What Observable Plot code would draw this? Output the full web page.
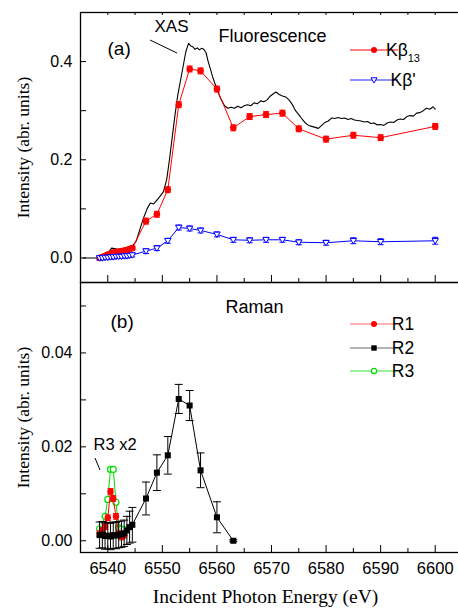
<!DOCTYPE html>
<html><head><meta charset="utf-8">
<script src="https://cdn.jsdelivr.net/npm/d3@7"></script>
<script src="https://cdn.jsdelivr.net/npm/@observablehq/plot@0.6"></script>
<style>
html,body{margin:0;padding:0;background:#fff;overflow:hidden;}
#wrap{position:relative;width:458px;height:609px;overflow:hidden;}
#top{position:absolute;left:0;top:0;}
#bot{position:absolute;left:0;top:274px;}
</style></head>
<body><div id="wrap"><div id="top"></div><div id="bot"></div></div>
<script>
// ---------- data ----------
const scanEnergy = [6538.5, 6539, 6539.5, 6540, 6540.5, 6541, 6541.5, 6542, 6542.5, 6543, 6543.5, 6544, 6544.5,
  6547, 6549, 6551, 6553, 6555, 6557, 6560, 6563, 6566, 6569, 6572, 6575, 6580, 6585, 6590, 6600];
const kb13Values = [0.000, 0.002, 0.004, 0.007, 0.009, 0.011, 0.012, 0.013, 0.014, 0.015, 0.016, 0.018, 0.020,
  0.075, 0.089, 0.139, 0.312, 0.385, 0.381, 0.344, 0.265, 0.288, 0.292, 0.295, 0.263, 0.242, 0.250, 0.245, 0.268];
const kb13Errors = [0.004, 0.004, 0.004, 0.004, 0.004, 0.004, 0.004, 0.004, 0.004, 0.004, 0.004, 0.004, 0.004,
  0.006, 0.006, 0.006, 0.006, 0.006, 0.006, 0.006, 0.006, 0.006, 0.006, 0.006, 0.006, 0.006, 0.006, 0.006, 0.006];
const kbPrimeValues = [0.000, 0.000, 0.001, 0.001, 0.002, 0.002, 0.003, 0.003, 0.003, 0.004, 0.004, 0.005, 0.006,
  0.014, 0.020, 0.035, 0.062, 0.060, 0.056, 0.048, 0.037, 0.036, 0.037, 0.037, 0.032, 0.031, 0.035, 0.033, 0.035];
const kbPrimeErrors = [0.004, 0.004, 0.004, 0.004, 0.004, 0.004, 0.004, 0.004, 0.004, 0.004, 0.004, 0.004, 0.004,
  0.005, 0.005, 0.005, 0.005, 0.005, 0.005, 0.005, 0.005, 0.005, 0.005, 0.005, 0.005, 0.005, 0.006, 0.006, 0.007];

const xasEnergy = [6535.5, 6538, 6539.5, 6540.2, 6540.7, 6541.2, 6542, 6543, 6543.8, 6544.5, 6545.2, 6545.8, 6546.5,
  6547.2, 6547.8, 6548.4, 6549, 6549.6, 6550.2, 6550.8, 6551.3, 6551.8, 6552.3, 6552.8, 6553.3, 6553.8, 6554.3,
  6554.8, 6555.2, 6555.6, 6556, 6556.4, 6556.8, 6557.2, 6557.6, 6558, 6558.4, 6558.8, 6559.3, 6559.8, 6560.3,
  6560.8, 6561.4, 6562, 6562.6, 6563.2, 6563.8, 6564.4, 6565, 6565.6, 6566.2, 6566.8, 6567.4, 6568, 6568.6,
  6569.2, 6569.8, 6570.4, 6570.8, 6571.4, 6572, 6572.6, 6573.2, 6573.8, 6574.4, 6575, 6575.6, 6576.2, 6576.8,
  6577.4, 6578, 6578.6, 6579.2, 6579.8, 6580.4, 6581, 6581.6, 6582.2, 6582.8, 6583.4, 6584, 6584.6, 6585.2,
  6585.8, 6586.4, 6587, 6587.6, 6588.2, 6588.8, 6589.4, 6590, 6590.6, 6591.2, 6591.8, 6592.4, 6593, 6593.6,
  6594.2, 6594.8, 6595.4, 6596, 6596.6, 6597.2, 6597.8, 6598.4, 6599, 6599.6, 6600];
const xasValues = [0.000, 0.000, 0.001, 0.012, 0.020, 0.019, 0.017, 0.018, 0.020, 0.024, 0.034, 0.055, 0.080,
  0.100, 0.112, 0.110, 0.118, 0.126, 0.135, 0.160, 0.200, 0.245, 0.290, 0.330, 0.360, 0.390, 0.420,
  0.437, 0.432, 0.430, 0.425, 0.428, 0.424, 0.427, 0.425, 0.418, 0.400, 0.385, 0.366, 0.350, 0.335,
  0.322, 0.310, 0.305, 0.307, 0.305, 0.309, 0.306, 0.310, 0.312, 0.310, 0.316, 0.314, 0.320, 0.318,
  0.322, 0.330, 0.335, 0.338, 0.333, 0.330, 0.328, 0.322, 0.313, 0.300, 0.292, 0.283, 0.275, 0.270,
  0.268, 0.266, 0.264, 0.270, 0.276, 0.279, 0.285, 0.284, 0.286, 0.284, 0.285, 0.282, 0.284, 0.281,
  0.280, 0.279, 0.277, 0.278, 0.274, 0.275, 0.271, 0.272, 0.270, 0.275, 0.277, 0.276, 0.281, 0.283,
  0.282, 0.288, 0.290, 0.289, 0.295, 0.296, 0.300, 0.305, 0.303, 0.308, 0.303];

const r2Energy = [6538.5, 6539, 6539.5, 6540, 6540.5, 6541, 6541.5, 6542, 6542.5, 6543, 6543.5, 6544, 6544.5,
  6547, 6549, 6551, 6553, 6555, 6557, 6560, 6563];
const r2Values = [0.0012, 0.0013, 0.0010, 0.0011, 0.0009, 0.0012, 0.0011, 0.0013, 0.0014, 0.0016, 0.0022, 0.0029, 0.0034,
  0.0090, 0.0145, 0.0182, 0.0302, 0.0288, 0.0150, 0.0050, 0.0000];
const r2Errors = [0.0028, 0.0028, 0.0028, 0.0028, 0.0028, 0.0028, 0.0028, 0.0028, 0.0028, 0.0028, 0.0030, 0.0034, 0.0037,
  0.0035, 0.0038, 0.0040, 0.0031, 0.0032, 0.0037, 0.0033, 0.0002];
const r1Energy = [6538.5, 6539, 6539.5, 6540, 6540.5, 6541, 6541.5, 6542, 6542.5, 6543];
const r1Values = [0.0015, 0.0022, 0.0030, 0.0049, 0.0105, 0.0090, 0.0052, 0.0015, 0.0008, 0.0012];
const r1Errors = [0.0006, 0.0006, 0.0006, 0.0006, 0.0006, 0.0006, 0.0006, 0.0006, 0.0006, 0.0006];
const r3Energy = [6538.5, 6539, 6539.5, 6540, 6540.5, 6541, 6541.5, 6542, 6542.5, 6543];
const r3Values = [0.0025, 0.0035, 0.0052, 0.0088, 0.0152, 0.0152, 0.0082, 0.0028, 0.0025, 0.0024];
const r3Errors = [0.0004, 0.0004, 0.0004, 0.0004, 0.0004, 0.0004, 0.0004, 0.0004, 0.0004, 0.0004];

const xMajorTicks = [6540, 6550, 6560, 6570, 6580, 6590, 6600];
const xMinorTicks = [6535, 6545, 6555, 6565, 6575, 6585, 6595, 6605];
const yTopTicks = [0, 0.2, 0.4];
const yTopMinor = [0.1, 0.3];
const yBotTicks = [0, 0.02, 0.04];
const yBotMinor = [0.01, 0.03, 0.05];

// ---------- helpers ----------
const zip = (E, V, Er) => E.map((e, i) => ({E: e, v: V[i], err: Er ? Er[i] : 0}));
const kb13 = zip(scanEnergy, kb13Values, kb13Errors);
const kbp = zip(scanEnergy, kbPrimeValues, kbPrimeErrors);
const xas = zip(xasEnergy, xasValues);
const r1 = zip(r1Energy, r1Values, r1Errors);
const r2 = zip(r2Energy, r2Values, r2Errors);
const r3 = zip(r3Energy, r3Values, r3Errors);

const capSym = {draw(ctx, size) { const r = Math.sqrt(size / Math.PI); ctx.moveTo(-r, 0); ctx.lineTo(r, 0); }};
const triDown = {draw(ctx, size) { const r = Math.sqrt(size / Math.PI); ctx.moveTo(-r, -r * 0.7); ctx.lineTo(r, -r * 0.7); ctx.lineTo(0, r); ctx.closePath(); }};

function errorMarks(data, color, capR) {
  return [
    Plot.ruleX(data, {x: "E", y1: d => d.v - d.err, y2: d => d.v + d.err, stroke: color, strokeWidth: 1}),
    Plot.dot(data, {x: "E", y: d => d.v + d.err, symbol: capSym, r: capR, stroke: color, fill: "none", strokeWidth: 1}),
    Plot.dot(data, {x: "E", y: d => d.v - d.err, symbol: capSym, r: capR, stroke: color, fill: "none", strokeWidth: 1})
  ];
}

const SANS = "Liberation Sans, Arial, sans-serif";
const SERIF = "Liberation Serif, Times New Roman, serif";
const W = 462, ML = 80, PH = 270;
const PW = W - ML;
const commonStyle = {fontFamily: SANS, fontSize: "16px", background: "transparent", overflow: "visible", maxWidth: "none"};

// ---------- top panel ----------
const topPlot = Plot.plot({
  width: W, height: 290, marginLeft: ML, marginRight: 0, marginTop: 12, marginBottom: 8,
  x: {domain: [6535, 6605], axis: null},
  y: {domain: [-0.05, 0.5], axis: null},
  style: commonStyle,
  marks: [
    Plot.line(xas, {x: "E", y: "v", stroke: "black", strokeWidth: 1.1}),
    ...errorMarks(kb13, "#ff0000", 3),
    Plot.line(kb13, {x: "E", y: "v", stroke: "#ff0000", strokeWidth: 1}),
    Plot.dot(kb13, {x: "E", y: "v", r: 3.3, fill: "#ff0000", stroke: "none"}),
    ...errorMarks(kbp, "#0000ff", 3),
    Plot.line(kbp, {x: "E", y: "v", stroke: "#0000ff", strokeWidth: 1}),
    Plot.dot(kbp, {x: "E", y: "v", symbol: triDown, r: 3.2, fill: "white", stroke: "#0000ff", strokeWidth: 1}),
    Plot.tickX(xMajorTicks, {x: d => d, insetTop: PH - 7, stroke: "black"}),
    Plot.tickX(xMinorTicks, {x: d => d, insetTop: PH - 4, stroke: "black"}),
    Plot.tickX(xMajorTicks.concat(xMinorTicks), {x: d => d, insetBottom: PH - 3, stroke: "black"}),
    Plot.tickY(yTopTicks.concat(yTopMinor), {y: d => d, insetRight: PW - 6, stroke: "black"}),
    Plot.axisY({ticks: yTopTicks, tickSize: 0, tickPadding: 8, tickFormat: d3.format(".1f"), label: null, fontSize: 16}),
    Plot.frame({stroke: "black", strokeWidth: 1.3}),
    Plot.text(["(a)"], {frameAnchor: "top-left", dx: 27, dy: 29, textAnchor: "start", fontSize: 19}),
    Plot.text(["XAS"], {frameAnchor: "top-left", dx: 74, dy: 7, textAnchor: "start", fontSize: 17}),
    Plot.text(["Fluorescence"], {frameAnchor: "top-left", dx: 138, dy: 17, textAnchor: "start", fontSize: 18}),
    Plot.text(["Intensity (abr. units)"], {frameAnchor: "left", dx: -57, rotate: -90, textAnchor: "middle", lineAnchor: "middle", fontFamily: SERIF, fontSize: 17.5})
  ]
});
document.getElementById("top").appendChild(topPlot);

// ---------- bottom panel ----------
const botPlot = Plot.plot({
  width: W, height: 335, marginLeft: ML, marginRight: 0, marginTop: 8, marginBottom: 57,
  x: {domain: [6535, 6605], axis: null},
  y: {domain: [-0.0025, 0.055], axis: null},
  style: commonStyle,
  marks: [
    ...errorMarks(r3, "#00dd00", 3),
    Plot.line(r3, {x: "E", y: "v", stroke: "#00dd00", strokeWidth: 1}),
    Plot.dot(r3, {x: "E", y: "v", r: 3, fill: "white", stroke: "#00dd00", strokeWidth: 1.2}),
    ...errorMarks(r1, "#ff0000", 3),
    Plot.line(r1, {x: "E", y: "v", stroke: "#ff0000", strokeWidth: 1}),
    Plot.dot(r1, {x: "E", y: "v", r: 3.2, fill: "#ff0000", stroke: "none"}),
    ...errorMarks(r2, "black", 4),
    Plot.line(r2, {x: "E", y: "v", stroke: "black", strokeWidth: 1}),
    Plot.dot(r2, {x: "E", y: "v", symbol: "square", r: 3.4, fill: "black", stroke: "none"}),
    Plot.tickX(xMajorTicks, {x: d => d, insetTop: PH - 7, stroke: "black"}),
    Plot.tickX(xMinorTicks, {x: d => d, insetTop: PH - 4, stroke: "black"}),
    Plot.tickY(yBotTicks.concat(yBotMinor), {y: d => d, insetRight: PW - 6, stroke: "black"}),
    Plot.axisY({ticks: yBotTicks, tickSize: 0, tickPadding: 8, tickFormat: d3.format(".2f"), label: null, fontSize: 16}),
    Plot.axisX({ticks: xMajorTicks, tickSize: 0, tickPadding: 10, tickFormat: d3.format("d"), label: null, fontSize: 16.5}),
    Plot.frame({stroke: "black", strokeWidth: 1.3}),
    Plot.text(["(b)"], {frameAnchor: "top-left", dx: 30, dy: 32, textAnchor: "start", fontSize: 19}),
    Plot.text(["Raman"], {frameAnchor: "top-left", dx: 145, dy: 18, textAnchor: "start", fontSize: 18}),
    Plot.text(["R3 x2"], {frameAnchor: "top-left", dx: 13, dy: 156, textAnchor: "start", fontSize: 16.5}),
    Plot.text(["Intensity (abr. units)"], {frameAnchor: "left", dx: -57, rotate: -90, textAnchor: "middle", lineAnchor: "middle", fontFamily: SERIF, fontSize: 17.5}),
    Plot.text(["Incident Photon Energy (eV)"], {frameAnchor: "bottom", dx: -6, dy: 50, fontFamily: SERIF, fontSize: 19.5})
  ]
});
document.getElementById("bot").appendChild(botPlot);

// ---------- legends and leader lines ----------
function legendRow(svg, y, color, lineOpacity, marker, label, sub) {
  const g = svg.append("g");
  g.append("line").attr("x1", 350).attr("x2", 398).attr("y1", y).attr("y2", y)
    .attr("stroke", color).attr("stroke-opacity", lineOpacity).attr("stroke-width", 1);
  marker(g, 374, y);
  const t = g.append("text").attr("x", 403).attr("y", y + 6).attr("font-family", SANS).attr("font-size", 17.5).attr("fill", "black").text(label);
  if (sub) t.append("tspan").attr("font-size", 11).attr("dy", 6).text(sub);
}
const dotM = c => (g, x, y) => g.append("circle").attr("cx", x).attr("cy", y).attr("r", 3).attr("fill", c);
const openDotM = c => (g, x, y) => g.append("circle").attr("cx", x).attr("cy", y).attr("r", 2.6).attr("fill", "white").attr("stroke", c).attr("stroke-width", 1.2);
const squareM = c => (g, x, y) => g.append("rect").attr("x", x - 2.7).attr("y", y - 2.7).attr("width", 5.4).attr("height", 5.4).attr("fill", c);
const triM = c => (g, x, y) => g.append("path").attr("d", `M${x - 3},${y - 2.2}L${x + 3},${y - 2.2}L${x},${y + 3}Z`).attr("fill", "white").attr("stroke", c);

const st = d3.select(topPlot);
legendRow(st, 50, "#ff0000", 1, dotM("#ff0000"), "Kβ", "13");
legendRow(st, 80, "#2020ff", 1, triM("#0000ff"), "Kβ'");
st.append("line").attr("x1", 150).attr("y1", 40).attr("x2", 177).attr("y2", 53).attr("stroke", "black").attr("stroke-width", 1);

const sb = d3.select(botPlot);
legendRow(sb, 324 - 274, "#ff0000", 0.6, dotM("#ff0000"), "R1");
legendRow(sb, 348 - 274, "black", 0.6, squareM("black"), "R2");
legendRow(sb, 371 - 274, "#00dd00", 0.8, openDotM("#00dd00"), "R3");
sb.append("line").attr("x1", 95).attr("y1", 458 - 274).attr("x2", 100).attr("y2", 470 - 274).attr("stroke", "black").attr("stroke-width", 1);
</script>
</body></html>
